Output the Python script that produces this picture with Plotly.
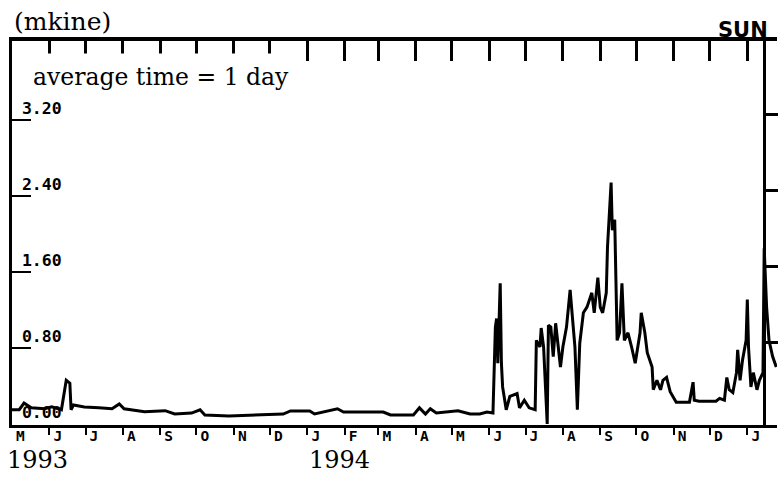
import plotly.graph_objects as go
import pandas as pd

# ---- data (daily average, mkine) ----
dates = [
    "1993-05-01", "1993-05-07", "1993-05-11", "1993-05-17", "1993-05-28", "1993-06-03",
    "1993-06-11", "1993-06-14", "1993-06-15", "1993-06-18", "1993-06-19", "1993-06-21",
    "1993-06-30", "1993-07-12", "1993-07-23", "1993-07-29", "1993-08-02", "1993-08-19",
    "1993-09-05", "1993-09-13", "1993-09-27", "1993-10-04", "1993-10-08", "1993-10-28",
    "1993-11-16", "1993-12-12", "1993-12-18", "1994-01-03", "1994-01-07", "1994-01-17",
    "1994-01-26", "1994-01-31", "1994-03-05", "1994-03-11", "1994-03-30", "1994-04-04",
    "1994-04-09", "1994-04-13", "1994-04-18", "1994-05-06", "1994-05-16", "1994-05-24",
    "1994-05-30", "1994-06-04", "1994-06-05", "1994-06-06", "1994-06-07", "1994-06-08",
    "1994-06-10", "1994-06-11", "1994-06-12", "1994-06-15", "1994-06-18", "1994-06-24",
    "1994-06-26", "1994-06-30", "1994-07-04", "1994-07-09", "1994-07-10", "1994-07-13",
    "1994-07-14", "1994-07-16", "1994-07-19", "1994-07-20", "1994-07-22", "1994-07-24",
    "1994-07-26", "1994-07-30", "1994-08-01", "1994-08-04", "1994-08-07", "1994-08-09",
    "1994-08-11", "1994-08-13", "1994-08-15", "1994-08-18", "1994-08-21", "1994-08-25",
    "1994-08-27", "1994-08-30", "1994-09-01", "1994-09-03", "1994-09-06", "1994-09-07",
    "1994-09-10", "1994-09-11", "1994-09-13", "1994-09-14", "1994-09-15", "1994-09-17",
    "1994-09-19", "1994-09-21", "1994-09-24", "1994-09-27", "1994-09-30", "1994-10-04",
    "1994-10-05", "1994-10-08", "1994-10-10", "1994-10-14", "1994-10-15", "1994-10-18",
    "1994-10-21", "1994-10-23", "1994-10-26", "1994-10-29", "1994-11-02", "1994-11-03",
    "1994-11-14", "1994-11-17", "1994-11-18", "1994-11-22", "1994-12-06", "1994-12-09",
    "1994-12-13", "1994-12-15", "1994-12-17", "1994-12-20", "1994-12-23", "1994-12-24",
    "1994-12-26", "1994-12-28", "1994-12-31", "1995-01-01", "1995-01-02", "1995-01-04",
    "1995-01-06", "1995-01-09", "1995-01-11", "1995-01-14", "1995-01-15", "1995-01-17",
    "1995-01-19", "1995-01-22", "1995-01-25",
]
values = [
    0.15, 0.15, 0.22, 0.17, 0.16, 0.18,
    0.15, 0.36, 0.46, 0.43, 0.15, 0.20,
    0.18, 0.17, 0.16, 0.21, 0.16, 0.13,
    0.14, 0.105, 0.115, 0.15, 0.095, 0.085,
    0.095, 0.105, 0.137, 0.137, 0.105, 0.13,
    0.16, 0.126, 0.126, 0.095, 0.095, 0.17,
    0.105, 0.16, 0.115, 0.14, 0.105, 0.105,
    0.126, 0.115, 0.46, 1.02, 1.11, 0.64,
    1.48, 0.64, 0.39, 0.15, 0.29, 0.32,
    0.17, 0.25, 0.17, 0.15, 0.88, 0.81,
    1.01, 0.81, 0.0, 1.04, 1.02, 0.71,
    1.06, 0.60, 0.81, 1.02, 1.41, 1.09,
    0.81, 0.15, 0.85, 1.17, 1.23, 1.38,
    1.17, 1.54, 1.23, 1.17, 1.38, 1.86,
    2.54, 2.04, 2.15, 1.52, 0.88, 0.96,
    1.48, 0.88, 0.96, 0.81, 0.64, 0.96,
    1.17, 0.96, 0.75, 0.60, 0.36, 0.46,
    0.36, 0.46, 0.49, 0.34, 0.25, 0.23,
    0.23, 0.44, 0.25, 0.24, 0.24, 0.27,
    0.25, 0.49, 0.36, 0.33, 0.54, 0.78,
    0.46, 0.67, 0.88, 1.31, 0.81, 0.39,
    0.54, 0.36, 0.46, 0.54, 1.85, 1.23,
    0.88, 0.71, 0.60,
]

month_starts = list(pd.date_range("1993-05-01", "1995-01-01", freq="MS").strftime("%Y-%m-%d"))
month_letters = ["M", "J", "J", "A", "S", "O", "N", "D",
                 "J", "F", "M", "A", "M", "J", "J", "A", "S", "O", "N", "D",
                 "J"]
ytick_vals = [0.0, 0.8, 1.6, 2.4, 3.2]
ytick_text = ["0.00", "0.80", "1.60", "2.40", "3.20"]
year_labels = ["1993", "1994"]
year_dates = ["1993-05-01", "1994-01-01"]

x_range = ["1993-05-01", "1995-01-25 15:00"]
y_range = [-0.0105, 4.03]

label_pos = list((pd.to_datetime(month_starts) + pd.Timedelta(days=7)).strftime("%Y-%m-%d"))

PLOT = "DejaVu Sans Mono"
SERIF = "DejaVu Serif"

fig = go.Figure()
fig.add_trace(go.Scatter(x=dates, y=values, mode="lines",
                         line=dict(color="black", width=3),
                         hoverinfo="skip", showlegend=False))
# invisible helpers so the extra axes are drawn
for xa, ya in (("x2", "y"), ("x3", "y"), ("x", "y3"), ("x", "y4")):
    fig.add_trace(go.Scatter(x=dates, y=values, xaxis=xa, yaxis=ya, mode="lines",
                             opacity=0, hoverinfo="skip", showlegend=False))

fig.update_layout(
    width=778, height=479,
    margin=dict(l=12, r=1, t=41, b=54),
    paper_bgcolor="white", plot_bgcolor="white",
    showlegend=False,
    xaxis=dict(
        type="date", range=x_range, showgrid=False, zeroline=False,
        showline=True, linecolor="black", linewidth=3,
        tickmode="array", tickvals=month_starts[1:], ticks="outside",
        ticklen=7, tickwidth=2, tickcolor="black", showticklabels=False,
    ),
    xaxis2=dict(
        type="date", range=x_range, overlaying="x", side="top", anchor="y",
        showgrid=False, zeroline=False, showline=True, linecolor="black", linewidth=3.5,
        tickmode="array", tickvals=month_starts[1:], ticks="inside", ticklen=20,
        tickwidth=2.5, tickcolor="black", showticklabels=False,
    ),
    xaxis3=dict(
        type="date", range=x_range, overlaying="x", side="bottom", anchor="free",
        position=0, showgrid=False, zeroline=False, showline=False,
        tickmode="array", tickvals=label_pos,
        ticktext=["<b>%s</b>" % m for m in month_letters],
        ticks="", ticklabelstandoff=0,
        tickfont=dict(family=PLOT, size=14.5, color="black"),
    ),
    yaxis=dict(
        range=y_range, showgrid=False, zeroline=False,
        showline=True, linecolor="black", linewidth=2.5,
        tickmode="array", tickvals=ytick_vals,
        ticks="inside", ticklen=19, tickwidth=2, tickcolor="black",
        showticklabels=False,
    ),
    yaxis4=dict(
        overlaying="y", anchor="free", position=0.009, side="right",
        range=y_range, showgrid=False, zeroline=False, showline=False,
        tickmode="array", tickvals=ytick_vals,
        ticktext=["<b>%s</b>" % t for t in ytick_text],
        ticks="", ticklabelposition="outside top", ticklabelstandoff=2,
        tickfont=dict(family=PLOT, size=16.5, color="black"),
    ),
    yaxis3=dict(
        overlaying="y", anchor="free", position=0.983, side="right",
        range=[-0.0635, 3.977], showgrid=False, zeroline=False,
        showline=True, linecolor="black", linewidth=2.5,
        tickmode="array", tickvals=ytick_vals[1:], ticks="outside", ticklen=14,
        tickwidth=2.5, tickcolor="black", showticklabels=False,
    ),
)

annotations = [
    dict(text="(mkine)", xref="paper", yref="paper", x=0.0, y=1.052,
         xanchor="left", yanchor="middle", showarrow=False,
         font=dict(family=SERIF, size=25, color="black")),
    dict(text="average time = 1 day", xref="paper", yref="paper", x=0.0144, y=0.968,
         xanchor="left", yanchor="top", showarrow=False, bgcolor="white", borderpad=9,
         font=dict(family=SERIF, size=23.5, color="black")),
    dict(text="<b>SUN</b>", xref="paper", yref="paper", x=0.991, y=1.0286,
         xanchor="right", yanchor="middle", showarrow=False,
         font=dict(family="DejaVu Sans", size=21, color="black")),
]
for lbl, d in zip(year_labels, year_dates):
    annotations.append(dict(text=lbl, xref="x", yref="paper", x=d, y=-0.09,
                            xanchor="left", yanchor="middle",
                            xshift=-7 if lbl == "1993" else 0,
                            showarrow=False,
                            font=dict(family=SERIF, size=24, color="black")))
fig.update_layout(annotations=annotations)

fig.write_html("out.html", config={"displayModeBar": False},
               post_script="document.body.style.margin='0px';")
